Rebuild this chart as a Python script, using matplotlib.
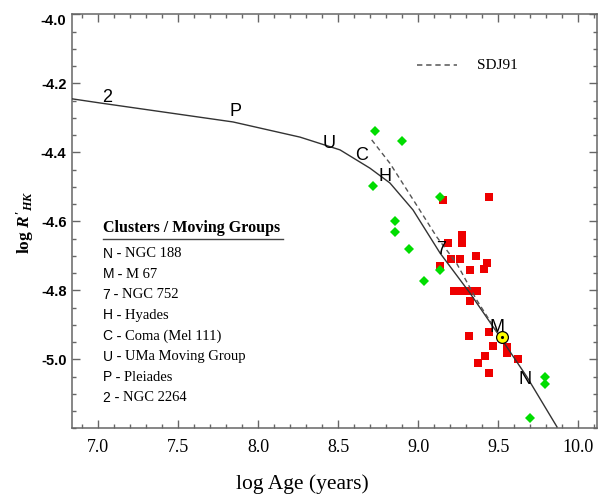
import matplotlib
matplotlib.use('Agg')
import matplotlib.pyplot as plt
from matplotlib.ticker import MultipleLocator, FormatStrFormatter

plt.rcParams['mathtext.fontset'] = 'custom'
plt.rcParams['mathtext.rm'] = 'Liberation Serif:bold'
plt.rcParams['mathtext.it'] = 'Liberation Serif:italic:bold'

# activity-age relation (solid)
fit_age = [6.836, 7.011, 7.842, 8.261, 8.511, 8.698, 8.823, 8.967,
           9.136, 9.323, 9.511, 9.679, 9.867]
fit_rhk = [-4.245, -4.257, -4.312, -4.356, -4.393, -4.446, -4.489, -4.567,
           -4.692, -4.808, -4.935, -5.051, -5.196]

# SDJ91 relation (dashed)
sdj_age = [8.709, 8.823, 8.969, 9.115, 9.240, 9.365, 9.492]
sdj_rhk = [-4.364, -4.432, -4.538, -4.645, -4.722, -4.828, -4.921]

# green diamonds
grn_age = [8.729, 8.898, 8.717, 9.136, 8.854, 8.854, 8.942, 9.136, 9.036,
           9.792, 9.792, 9.698]
grn_rhk = [-4.338, -4.367, -4.498, -4.530, -4.599, -4.631, -4.680, -4.741,
           -4.773, -5.051, -5.072, -5.170]

# red squares
red_age = [9.153, 9.444, 9.184, 9.275, 9.275, 9.203, 9.136, 9.261, 9.361,
           9.428, 9.413, 9.323, 9.223, 9.271, 9.319, 9.369, 9.323, 9.319,
           9.442, 9.465, 9.553, 9.553, 9.417, 9.371, 9.621, 9.444]
red_rhk = [-4.538, -4.529, -4.662, -4.640, -4.662, -4.710, -4.729, -4.710,
           -4.701, -4.720, -4.739, -4.741, -4.801, -4.801, -4.801, -4.801,
           -4.830, -4.932, -4.920, -4.961, -4.963, -4.981, -4.990, -5.012,
           -5.000, -5.041]

sun_age, sun_rhk = 9.521, -4.936

# cluster letters on the curve
clu_keys = ['2', 'P', 'U', 'C', 'H', '7', 'M', 'N']
clu_age = [7.054, 7.860, 8.443, 8.646, 8.789, 9.143, 9.492, 9.667]
clu_rhk = [-4.240, -4.282, -4.374, -4.410, -4.471, -4.681, -4.908, -5.060]

key_letters = ['N', 'M', '7', 'H', 'C', 'U', 'P', '2']
key_names = ['NGC 188', 'M 67', 'NGC 752', 'Hyades', 'Coma (Mel 111)',
             'UMa Moving Group', 'Pleiades', 'NGC 2264']

yticks = [-5.0, -4.8, -4.6, -4.4, -4.2, -4.0]

fig = plt.figure(figsize=(6.01, 4.95), dpi=100)
ax = fig.add_axes([72 / 601, 1 - 428.3 / 495, 525 / 601, 414 / 495])

ax.plot(red_age, red_rhk, 's', color='#ee0000', ms=5.2, mew=0, zorder=2)
ax.plot(grn_age, grn_rhk, 'D', color='#00dd00', ms=4.9, mew=0, zorder=3)
ax.plot(fit_age, fit_rhk, '-', color='#333333', lw=1.0, zorder=4)
ax.plot(sdj_age, sdj_rhk, '--', color='#555555', lw=1.0, dashes=(3.5, 2.5), zorder=4)
ax.plot(sun_age, sun_rhk, 'o', color='#ffff00', ms=8.5, mec='black', mew=0.9, zorder=6)
ax.plot(sun_age, sun_rhk, '.', color='black', ms=2.5, zorder=7)

for k, a, r in zip(clu_keys, clu_age, clu_rhk):
    ax.text(a, r, k, fontsize=13, family='Liberation Sans', ha='center',
            va='center', zorder=5)

# legend for the dashed line
ax.plot([0.657, 0.733], [0.8775, 0.8775], '--', color='#555555', lw=1.1,
        dashes=(3.5, 2.5), transform=ax.transAxes)
ax.text(0.7714, 0.8775, 'SDJ91', fontsize=11, family='Liberation Serif',
        va='center', ha='left', transform=ax.transAxes)

# cluster key
ax.text(0.0585, 0.4838, 'Clusters / Moving Groups', fontsize=11.5,
        family='Liberation Serif', weight='bold', va='center',
        transform=ax.transAxes)
ax.plot([0.0585, 0.4025], [0.4565, 0.4565], color='#444444', lw=1.0,
        transform=ax.transAxes)
for i, (k, n) in enumerate(zip(key_letters, key_names)):
    y = 0.4222 - i * 0.04976
    t = ax.text(0.0585, y, k, fontsize=10, family='Liberation Sans',
                va='center', transform=ax.transAxes)
    ax.annotate(' - ' + n, xy=(1, 0.5), xycoords=t, fontsize=10.5,
                family='Liberation Serif', va='center', ha='left')

ax.set_xlim(6.836, 10.117)
ax.set_ylim(-5.2, -4.0)
ax.xaxis.set_major_locator(MultipleLocator(0.5))
ax.xaxis.set_minor_locator(MultipleLocator(0.1))
ax.set_yticks(yticks)
ax.yaxis.set_minor_locator(MultipleLocator(0.05))
ax.xaxis.set_major_formatter(FormatStrFormatter('%.1f'))
ax.yaxis.set_major_formatter(FormatStrFormatter('%.1f'))

for s in ax.spines.values():
    s.set_color('#666666')
    s.set_linewidth(1.1)
ax.tick_params(which='both', direction='in', top=True, right=True,
               color='#666666', width=1.0)
ax.tick_params(which='major', length=6)
ax.tick_params(which='minor', length=3)
ax.tick_params(axis='x', pad=8)
ax.tick_params(axis='y', pad=4)
for lab in ax.get_xticklabels():
    lab.set_family('Liberation Serif')
    lab.set_fontsize(13)
ylabs = ax.get_yticklabels()
for lab in ylabs:
    lab.set_family('Liberation Sans')
    lab.set_fontweight('bold')
    lab.set_fontsize(10.5)
ylabs[-1].set_va('top')

fig.text(25 / 601, 1 - 222 / 495, r"log $R'_{HK}$", rotation=90,
         fontsize=12.5, family='Liberation Serif', weight='bold',
         ha='center', va='center')
fig.text(302 / 601, 6 / 495, 'log Age (years)', fontsize=15.5,
         family='Liberation Serif', ha='center', va='baseline')

fig.savefig('out.png', dpi=100, facecolor='white')
